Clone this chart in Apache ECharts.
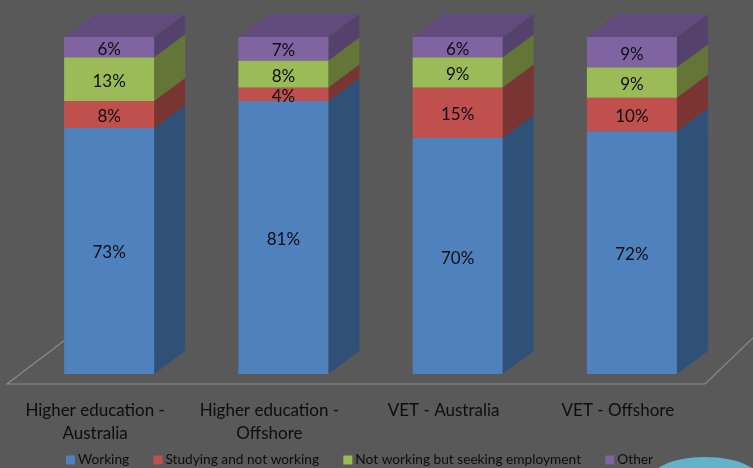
<!DOCTYPE html>
<html>
<head>
<meta charset="utf-8">
<style>html,body{margin:0;padding:0;background:#595959}#c{width:753px;height:468px;filter:blur(0.4px)}</style>
<script src="https://cdn.jsdelivr.net/npm/echarts@6/dist/echarts.min.js"></script>
</head>
<body>
<div id="c"></div>
<script>
var categories = ['Higher education -\nAustralia', 'Higher education -\nOffshore', 'VET - Australia', 'VET - Offshore'];
var working = [73, 81, 70, 72];
var studying = [8, 4, 15, 10];
var seeking = [13, 8, 9, 9];
var other = [6, 7, 6, 9];
var seriesNames = ['Working', 'Studying and not working', 'Not working but seeking employment', 'Other'];
var seriesValues = [working, studying, seeking, other];
var frontColors = ['#4F81BD', '#C0504D', '#9BBB59', '#8064A2'];
var sideColors = ['#2F5178', '#7A3432', '#637537', '#54426C'];
var topColor = '#614B7C';
var DX = 31, DY = 23, BAR = 90;

function renderer(si) {
  return function (params, api) {
    var cat = api.value(0);
    var base = 0;
    for (var k = 0; k < si; k++) base += seriesValues[k][cat];
    var v = api.value(1);
    var c0 = api.coord([cat, base]);
    var c1 = api.coord([cat, base + v]);
    var l = c0[0] - BAR / 2, r = c0[0] + BAR / 2, y0 = c0[1], y1 = c1[1];
    var kids = [
      { type: 'polygon', shape: { points: [[r, y0], [r + DX, y0 - DY], [r + DX, y1 - DY], [r, y1]] }, style: { fill: sideColors[si] } },
      { type: 'rect', shape: { x: l, y: y1, width: BAR, height: y0 - y1 }, style: { fill: frontColors[si] } }
    ];
    if (si === seriesValues.length - 1) {
      kids.push({ type: 'polygon', shape: { points: [[l, y1], [l + DX, y1 - DY], [r + DX, y1 - DY], [r, y1]] }, style: { fill: topColor } });
    }
    kids.push({
      type: 'text', z2: 10,
      style: { x: (l + r) / 2, y: (y0 + y1) / 2 + 2, text: v + '%', fill: '#0d0d12', font: '17px Lato', align: 'center', verticalAlign: 'middle' }
    });
    return { type: 'group', children: kids };
  };
}

var chart = echarts.init(document.getElementById('c'), null, { renderer: 'canvas' });
chart.setOption({
  animation: false,
  backgroundColor: '#595959',
  grid: { left: 22, top: 37, width: 697, height: 337 },
  xAxis: {
    type: 'category', data: categories,
    axisLine: { show: false }, axisTick: { show: false },
    axisLabel: { interval: 0, color: '#0d0d0d', fontFamily: 'Lato', fontSize: 17, lineHeight: 23, margin: 25, padding: [0, 28, 0, 0] }
  },
  yAxis: { type: 'value', min: 0, max: 100, show: false },
  legend: {
    left: 66, top: 453, itemWidth: 9, itemHeight: 9, itemGap: 24.3, padding: 0,
    textStyle: { color: '#0d0d0d', fontFamily: 'Lato', fontSize: 13.7, padding: [0, 0, 0, -2] },
    data: seriesNames.map(function (n, i) { return { name: n, icon: 'rect', itemStyle: { color: frontColors[i] } }; })
  },
  graphic: [
    { type: 'polyline', silent: true, z: -1, shape: { points: [[65, 340], [7, 384], [705, 384], [753, 338]] }, style: { stroke: '#8a8a8a', lineWidth: 1.2, fill: null } },
    { type: 'ellipse', silent: true, z: -1, shape: { cx: 705, cy: 480, rx: 55, ry: 23 }, style: { fill: '#63B2CB' } }
  ],
  series: seriesNames.map(function (n, i) {
    return {
      type: 'custom', name: n, coordinateSystem: 'cartesian2d', clip: false,
      itemStyle: { color: frontColors[i] },
      renderItem: renderer(i),
      encode: { x: 0, y: 1 },
      data: seriesValues[i].map(function (v, j) { return [j, v]; })
    };
  })
});
</script>
</body>
</html>
